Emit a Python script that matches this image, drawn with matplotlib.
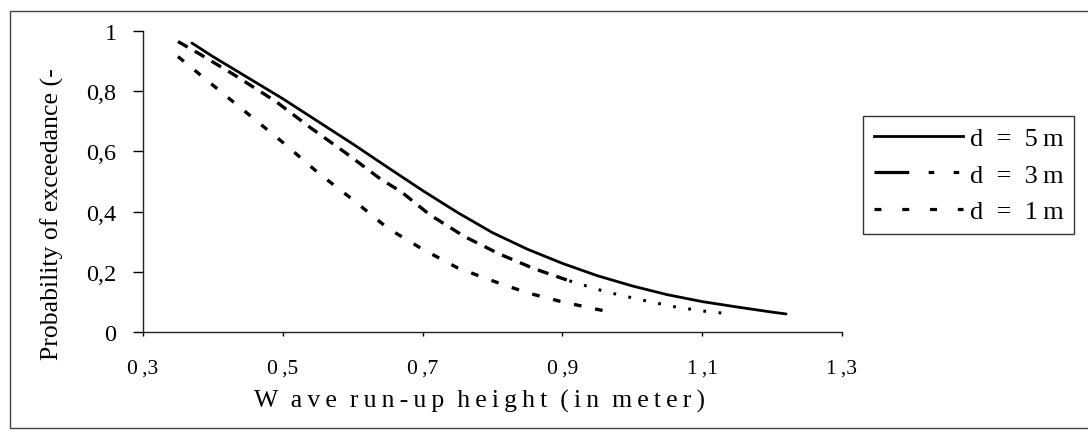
import matplotlib
matplotlib.use("Agg")
import matplotlib.pyplot as plt
from matplotlib.lines import Line2D
from matplotlib.patches import Rectangle

plt.rcParams['font.family'] = ['Liberation Serif', 'DejaVu Serif']
plt.rcParams['lines.scale_dashes'] = False

TS = '\u2009'  # thin space, the scan has wide letter spacing

# probability of exceedance vs wave run-up height
x_5m = [0.37, 0.40, 0.45, 0.50, 0.55, 0.60, 0.65, 0.70, 0.75, 0.80,
        0.85, 0.90, 0.95, 1.00, 1.05, 1.10, 1.15, 1.20, 1.22]
y_5m = [0.96, 0.915, 0.845, 0.775, 0.70, 0.625, 0.547, 0.47, 0.397, 0.33,
        0.275, 0.228, 0.187, 0.153, 0.124, 0.101, 0.083, 0.066, 0.06]

x_3m = [0.35, 0.38, 0.43, 0.49, 0.54, 0.59, 0.64, 0.67, 0.71, 0.76,
        0.81, 0.86, 0.91, 0.96, 1.01, 1.06, 1.10, 1.14]
y_3m = [0.965, 0.925, 0.855, 0.766, 0.678, 0.595, 0.508, 0.465, 0.39, 0.317,
        0.259, 0.21, 0.17, 0.135, 0.108, 0.084, 0.07, 0.06]

x_1m = [0.35, 0.40, 0.45, 0.50, 0.55, 0.60, 0.65, 0.70, 0.75, 0.80,
        0.85, 0.90, 0.95, 0.97]
y_1m = [0.915, 0.82, 0.725, 0.63, 0.53, 0.44, 0.345, 0.275, 0.213, 0.17,
        0.13, 0.10, 0.075, 0.066]

labels = ['d  =  5' + TS + 'm', 'd  =  3' + TS + 'm', 'd  =  1' + TS + 'm']
xticks = [0.3, 0.5, 0.7, 0.9, 1.1, 1.3]
yticks = [0, 0.2, 0.4, 0.6, 0.8, 1]
xlabel = 'W ave run-up height (in meter)'
ylabel = 'Probability of exceedance (-'


def spaced(s):
    return '  '.join(TS.join(w) for w in s.split(' '))


fig = plt.figure(figsize=(10.88, 4.35), dpi=100)
ax = fig.add_axes([143 / 1088, 1 - 333 / 435, (842 - 143) / 1088, (333 - 32) / 435])

ax.plot(x_5m, y_5m, color='black', lw=2.0, solid_capstyle='round')
# the d=3m dashes fade to dots on the flat tail in the scan
k = x_3m.index(0.91)
ax.plot(x_3m[:k + 1], y_3m[:k + 1], color='black', lw=2.4, dashes=(8, 6))
ax.plot(x_3m[k:], y_3m[k:], color='black', lw=2.2, dashes=(2, 9))
ax.plot(x_1m, y_1m, color='black', lw=2.4, dashes=(5.5, 10))

ax.set_xlim(0.3, 1.3)
ax.set_ylim(0, 1)
ax.set_xticks(xticks)
ax.set_yticks(yticks)
ax.set_xticklabels([str(t).replace('.', TS + ',') for t in xticks], fontsize=15.5)
ax.set_yticklabels([('%g' % t).replace('.', ',') for t in yticks], fontsize=17.5)
ax.tick_params(axis='x', direction='out', length=3, width=1, pad=16)
ax.tick_params(axis='y', direction='out', length=7, width=1, pad=12)

for s in ['top', 'right']:
    ax.spines[s].set_visible(False)
for s in ['left', 'bottom']:
    ax.spines[s].set_linewidth(1.0)
    ax.spines[s].set_color('#222222')

fig.text(480 / 1088, 1 - 401 / 435, spaced(xlabel),
         fontsize=18.5, ha='center', va='center')
fig.text(52 / 1088, 1 - 214 / 435, ylabel,
         fontsize=18.5, rotation=90, ha='center', va='center')

handles = [Line2D([], [], color='black', lw=2.0),
           Line2D([], [], color='black', lw=2.3, dashes=(25, 14, 4, 14, 4, 14)),
           Line2D([], [], color='black', lw=2.3, dashes=(5, 15))]
leg = fig.legend(handles, labels, loc='upper left',
                 bbox_to_anchor=(863 / 1088, 1 - 117 / 435),
                 borderaxespad=0, fontsize=19, handlelength=3.4,
                 handletextpad=0.25, labelspacing=0.5, borderpad=0.4,
                 fancybox=False, framealpha=1, edgecolor='#333333')
leg.get_frame().set_linewidth(1.0)

# outer chart border
fig.patches.append(Rectangle((10 / 1088, 1 - 429 / 435), 1.05, (429 - 12) / 435,
                             transform=fig.transFigure, fill=False,
                             edgecolor='#444444', lw=1.0))

fig.savefig('out.png', dpi=100)
